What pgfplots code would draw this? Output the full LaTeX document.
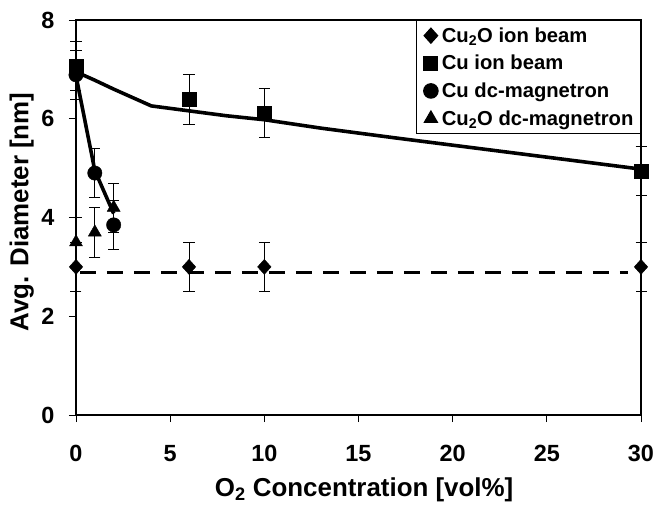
\documentclass[border=0pt]{standalone}
\usepackage{fontspec}
\setmainfont{Liberation Sans}
\usepackage{pgfplots}
\pgfplotsset{compat=1.18}

% measured particle diameters: x = O2 concentration, y = diameter, e = error
\pgfplotstableread{
x   y     e
0   3.0   0.5
6   3.0   0.5
10  3.0   0.5
30  3.0   0.5
}\cuoion
\pgfplotstableread{
x   y     e
0   7.07  0.5
6   6.39  0.5
10  6.12  0.5
30  4.94  0.5
}\cuion
\pgfplotstableread{
x   y     e
0   6.89  0.5
1   4.90  0.5
2   3.85  0.5
}\cudc
\pgfplotstableread{
x   y     e
0   3.50  0.5
1   3.70  0.5
2   4.20  0.5
}\cuodc

\begin{document}
\begin{tikzpicture}
\begin{axis}[
  scale only axis, width=565bp, height=395bp,
  xmin=0, xmax=30, ymin=0, ymax=8,
  xtick={0,5,...,30}, ytick={0,2,...,8},
  xtick pos=lower, ytick pos=left,
  tick align=outside, major tick length=7bp,
  tick style={black, line width=0.8pt},
  axis line style={black, line width=1.6pt},
  clip=false,
  /pgf/number format/assume math mode=true,
  ticklabel style={font=\fontsize{23.5}{23.5}\selectfont\bfseries},
  xticklabel style={yshift=-20bp},
  yticklabel style={xshift=-11bp},
  xlabel={O\textsubscript{2} Concentration [vol\%]},
  ylabel={Avg. Diameter [nm]},
  label style={font=\fontsize{26}{26}\selectfont\bfseries},
  xlabel style={at={(axis description cs:0.51,-0.19)}, anchor=center},
  ylabel style={at={(axis description cs:-0.096,0.514)}, anchor=center},
  legend style={at={(1,1)}, anchor=north east, draw=black, line width=1.2pt,
    font=\fontsize{20.3}{20.3}\selectfont\bfseries, row sep=7.5bp,
    inner xsep=5bp, inner ysep=5bp},
  legend cell align=left,
  legend image code/.code={%
    \path[draw=none, fill=none] (-9bp,0bp) rectangle (9bp,0bp);
    \draw[#1] plot coordinates {(0bp,0bp)};},
  error bars/y dir=both, error bars/y explicit,
  error bars/error bar style={black, line width=0.8pt},
  error bars/error mark options={rotate=90, black, mark size=5.5bp, line width=0.8pt},
]
% trend lines
\addplot[black, line width=3.6pt, dash pattern=on 16bp off 11bp, forget plot]
  coordinates {(0.2,2.89) (29.3,2.89)};
\addplot[black, line width=3.6pt, line join=round, forget plot]
  coordinates {(0,6.95) (1,6.78) (2,6.6) (3,6.43) (4,6.26) (6,6.16) (8,6.06)
               (10,5.98) (13,5.81) (17,5.61) (23.4,5.3) (30,4.98)};
\addplot[black, line width=3.6pt, line join=round, forget plot]
  coordinates {(0,6.87) (1,4.95) (2,4.08)};
% data points
\addplot[only marks, mark=diamond*, mark size=7.5bp, mark options={fill=black, draw=black, xscale=1.2}]
  table[x=x, y=y, y error=e]{\cuoion};
\addlegendentry{Cu\textsubscript{2}O ion beam}
\addplot[only marks, mark=square*, mark size=7bp, mark options={fill=black, draw=black}]
  table[x=x, y=y, y error=e]{\cuion};
\addlegendentry{Cu ion beam}
\addplot[only marks, mark=*, mark size=7.2bp, mark options={fill=black, draw=black}]
  table[x=x, y=y, y error=e]{\cudc};
\addlegendentry{Cu dc-magnetron}
\addplot[only marks, mark=triangle*, mark size=7.5bp, mark options={fill=black, draw=black}]
  table[x=x, y=y, y error=e]{\cuodc};
\addlegendentry{Cu\textsubscript{2}O dc-magnetron}
\end{axis}
\pgfresetboundingbox
\path[use as bounding box] (-76bp,-92bp) rectangle (582bp,415bp);
\end{tikzpicture}
\end{document}
